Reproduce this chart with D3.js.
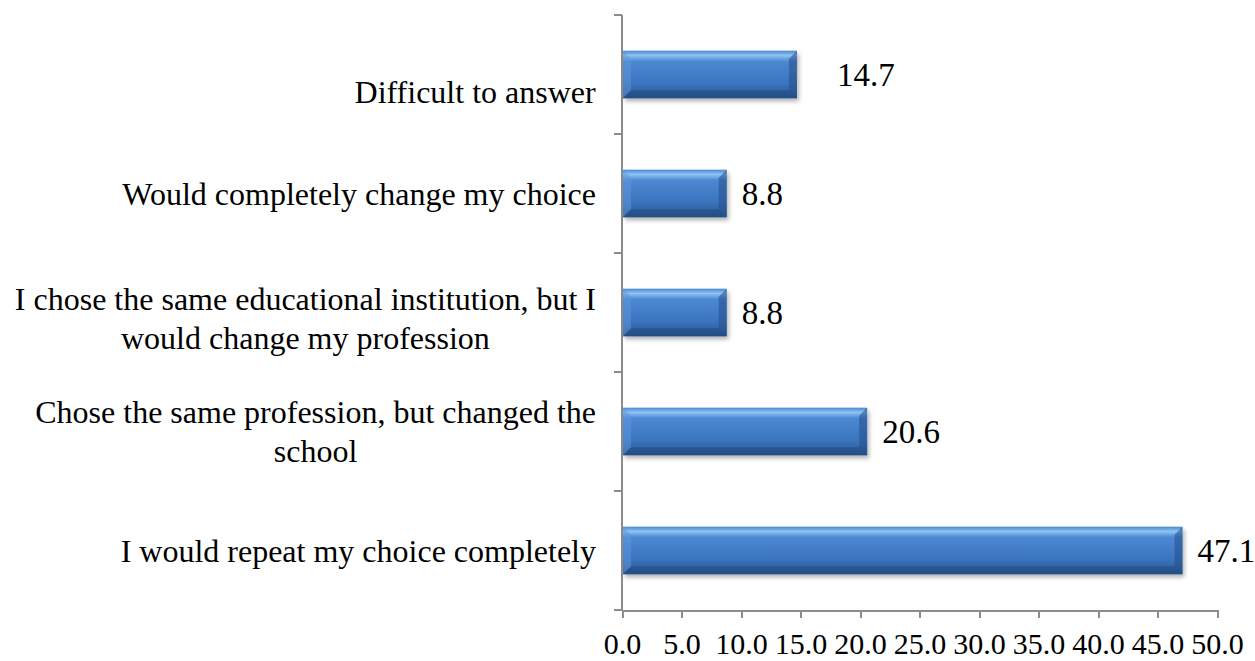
<!DOCTYPE html>
<meta charset="utf-8">
<script src="https://d3js.org/d3.v7.min.js"></script>
<style>
body { margin: 0; background: #fff; }
text { font-family: "Liberation Serif", "Times New Roman", serif; fill: #000; }
.axis path, .axis line { stroke: #8c8c8c; stroke-width: 2; shape-rendering: crispEdges; }
</style>
<body>
<script>
// data, top to bottom as shown
var categories = [
  "Difficult to answer",
  "Would completely change my choice",
  "I chose the same educational institution, but I|would change my profession",
  "Chose the same profession, but changed the|school",
  "I would repeat my choice completely"
];
var values = [14.7, 8.8, 8.8, 20.6, 47.1];
var xTicks = [0, 5, 10, 15, 20, 25, 30, 35, 40, 45, 50];

var width = 1255, height = 661;
var plotLeft = 622, plotRight = 1217, plotTop = 15, plotBottom = 610;

var svg = d3.select("body").append("svg")
    .attr("width", width)
    .attr("height", height);

var defs = svg.append("defs");
var grad = defs.append("linearGradient")
    .attr("id", "barGrad")
    .attr("x1", 0).attr("y1", 0).attr("x2", 0).attr("y2", 1);
grad.append("stop").attr("offset", "0%").attr("stop-color", "#4a88d6");
grad.append("stop").attr("offset", "10%").attr("stop-color", "#8ec3f2");
grad.append("stop").attr("offset", "22%").attr("stop-color", "#4d89d3");
grad.append("stop").attr("offset", "70%").attr("stop-color", "#3a73bd");
grad.append("stop").attr("offset", "100%").attr("stop-color", "#28548e");

var shadow = defs.append("filter").attr("id", "shadow")
    .attr("x", "-5%").attr("y", "-20%").attr("width", "115%").attr("height", "150%");
shadow.append("feDropShadow")
    .attr("dx", 2).attr("dy", 3).attr("stdDeviation", 2)
    .attr("flood-color", "#000").attr("flood-opacity", 0.3);

var x = d3.scaleLinear().domain([0, 50]).range([plotLeft, plotRight]);
var y = d3.scaleBand().domain(categories).range([plotTop, plotBottom])
    .paddingInner(0.6).paddingOuter(0.3);
var yEdges = d3.scaleLinear().domain([0, categories.length]).range([plotTop, plotBottom]);

// x axis
var xAxis = svg.append("g")
    .attr("class", "axis")
    .attr("transform", "translate(0," + plotBottom + ")")
    .call(d3.axisBottom(x).tickValues(xTicks).tickSize(8).tickSizeOuter(0)
      .tickFormat(d3.format(".1f")));
xAxis.selectAll("text")
    .attr("dy", 0).attr("y", 44)
    .attr("fill", "#000")
    .style("font-size", "30px")
    .style("font-family", "Liberation Serif, serif");

// y axis line with ticks at band edges
var yAxis = svg.append("g").attr("class", "axis");
yAxis.append("line")
    .attr("x1", plotLeft).attr("x2", plotLeft)
    .attr("y1", plotTop).attr("y2", plotBottom);
yAxis.selectAll(".yt")
    .data(d3.range(categories.length + 1))
    .enter().append("line")
    .attr("x1", plotLeft - 8).attr("x2", plotLeft)
    .attr("y1", function(d) { return yEdges(d); })
    .attr("y2", function(d) { return yEdges(d); });

// bars
var bars = svg.selectAll(".bar")
    .data(categories)
    .enter().append("g")
    .attr("class", "bar");

bars.append("rect")
    .attr("x", plotLeft + 1)
    .attr("y", function(d) { return y(d); })
    .attr("width", function(d, i) { return x(values[i]) - plotLeft - 1; })
    .attr("height", y.bandwidth())
    .attr("fill", "url(#barGrad)")
    .attr("filter", "url(#shadow)");

// bevel edges
var bev = 8;
bars.append("path")
    .attr("d", function(d, i) {
      var x0 = plotLeft + 1, y0 = y(d), y1 = y(d) + y.bandwidth();
      return "M" + x0 + "," + y0 + "L" + (x0 + bev) + "," + (y0 + bev) +
        "L" + (x0 + bev) + "," + (y1 - bev) + "L" + x0 + "," + y1 + "Z";
    })
    .attr("fill", "#5f97dc").attr("opacity", 0.5);
bars.append("path")
    .attr("d", function(d, i) {
      var x1 = x(values[i]), y0 = y(d), y1 = y(d) + y.bandwidth();
      return "M" + x1 + "," + y0 + "L" + (x1 - bev) + "," + (y0 + bev) +
        "L" + (x1 - bev) + "," + (y1 - bev) + "L" + x1 + "," + y1 + "Z";
    })
    .attr("fill", "#244f86").attr("opacity", 0.55);
bars.append("path")
    .attr("d", function(d, i) {
      var x0 = plotLeft + 1, x1 = x(values[i]), y1 = y(d) + y.bandwidth();
      return "M" + x0 + "," + y1 + "L" + (x0 + bev) + "," + (y1 - bev) +
        "L" + (x1 - bev) + "," + (y1 - bev) + "L" + x1 + "," + y1 + "Z";
    })
    .attr("fill", "#1f4676").attr("opacity", 0.45);

// value labels (the top one sits further out in the original)
bars.append("text")
    .attr("x", function(d, i) { return x(values[i]) + (i === 0 ? 40 : 15); })
    .attr("y", function(d) { return y(d) + y.bandwidth() / 2; })
    .attr("dy", "0.35em")
    .style("font-size", "33px")
    .text(function(d, i) { return values[i].toFixed(1); });

// category labels
var labelShift = function(i) { return i === 0 ? 17 : (i === 2 ? 6 : 0); };
var labels = svg.selectAll(".cat")
    .data(categories)
    .enter().append("text")
    .attr("class", "cat")
    .attr("text-anchor", "middle")
    .style("font-size", "32px");

labels.each(function(d, i) {
  var lines = d.split("|");
  var t = d3.select(this);
  var cy = y(d) + y.bandwidth() / 2 + labelShift(i);
  var lh = 39;
  var startY = cy - (lines.length - 1) * lh / 2;
  lines.forEach(function(l, k) {
    t.append("tspan")
      .attr("x", 0)
      .attr("y", startY + k * lh)
      .attr("dy", "0.35em")
      .text(l);
  });
});

// right-align each block, lines centred inside it
labels.each(function() {
  var bb = this.getBBox();
  var shift = 596 - (bb.x + bb.width);
  d3.select(this).attr("transform", "translate(" + shift + ",0)");
});
</script>
</body>
</html>
